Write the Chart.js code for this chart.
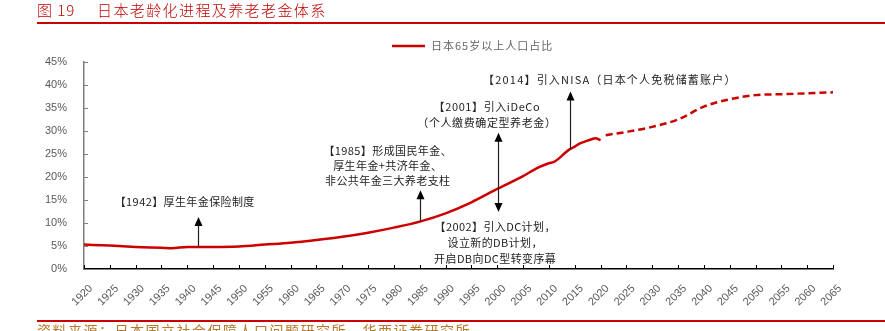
<!DOCTYPE html>
<html>
<head>
<meta charset="utf-8">
<script src="https://cdn.jsdelivr.net/npm/chart.js@4.4.0/dist/chart.umd.min.js"></script>
<style>
  html, body { margin: 0; padding: 0; background: #fff; }
</style>
</head>
<body>
<canvas id="agingChart" width="885" height="331"></canvas>
<script>
// 日本65岁以上人口占比（%），实际值
const actualYears = [1920, 1925, 1930, 1935, 1937, 1940, 1945, 1950, 1955, 1960, 1965, 1970, 1975, 1980,
                     1985, 1990, 1995, 2000, 2005, 2008, 2010, 2011, 2012, 2013, 2014, 2015, 2016, 2017,
                     2018, 2019, 2020];
const actualShare = [5.3, 5.1, 4.8, 4.6, 4.5, 4.8, 4.8, 4.9, 5.3, 5.7, 6.3, 7.0, 7.9, 9.0,
                     10.3, 12.1, 14.5, 17.4, 20.2, 22.1, 23.0, 23.3, 24.1, 25.1, 26.0, 26.6, 27.3, 27.7,
                     28.1, 28.4, 28.0];

// 预测值
const projYears = [2021, 2025, 2030, 2035, 2040, 2045, 2050, 2055, 2060, 2065];
const projShare = [29.1, 29.8, 30.9, 32.5, 35.3, 36.9, 37.8, 38.0, 38.2, 38.4];

const seriesName = '日本65岁以上人口占比';

// 政策节点：arrowFrom/arrowTo 为百分比位置，text 为多行说明
const notes = [
  { year: 1942, arrowFrom: 4.8, arrowTo: 11.3, textX: 1939.5, textY: [14.6], spacing: 0.4,
    text: ['【1942】厚生年金保险制度'] },
  { year: 1985, arrowFrom: 10.3, arrowTo: 17.1, textX: 1978.8, textY: [25.8, 22.5, 19.2], spacing: 0.4,
    text: ['【1985】形成国民年金、', '厚生年金+共济年金、', '非公共年金三大养老支柱'] },
  { year: 2000.1, arrowFrom: 17.4, arrowTo: 29.6, textX: 1998.0, textY: [35.3, 31.8], spacing: 0.6,
    text: ['【2001】引入iDeCo', '（个人缴费确定型养老金）'] },
  { year: 2000.1, arrowFrom: 17.4, arrowTo: 12.4, textX: 1999.6, textY: [9.2, 5.7, 2.2], spacing: 0.4,
    text: ['【2002】引入DC计划，', '设立新的DB计划，', '开启DB向DC型转变序幕'] },
  { year: 2014, arrowFrom: 26.0, arrowTo: 38.6, textX: 2021.8, textY: [41.2], spacing: 1.2,
    text: ['【2014】引入NISA（日本个人免税储蓄账户）'] }
];

const RED = '#cc0000';
const CJK = '"Noto Sans CJK SC", "Liberation Sans", sans-serif';

function arrow(ctx, x, y0, y1) {
  const dir = y1 < y0 ? -1 : 1;
  ctx.beginPath();
  ctx.moveTo(x, y0);
  ctx.lineTo(x, y1 - dir * 7);
  ctx.stroke();
  ctx.beginPath();
  ctx.moveTo(x, y1);
  ctx.lineTo(x - 4, y1 - dir * 9);
  ctx.lineTo(x + 4, y1 - dir * 9);
  ctx.closePath();
  ctx.fill();
}

const decorations = {
  id: 'decorations',
  afterDraw(chart) {
    const ctx = chart.ctx;
    const xs = chart.scales.x, ys = chart.scales.y;
    ctx.save();

    // 标题及上下分隔线
    ctx.fillStyle = '#c00000';
    ctx.font = '300 15px ' + CJK;
    ctx.textBaseline = 'middle';
    ctx.textAlign = 'left';
    ctx.letterSpacing = '1px';
    ctx.fillText('图 19', 37, 10);
    ctx.letterSpacing = '1.4px';
    ctx.fillText('日本老龄化进程及养老老金体系', 97, 10);
    ctx.letterSpacing = '0px';
    ctx.fillStyle = RED;
    ctx.fillRect(37, 22, 848, 2);
    ctx.fillRect(37, 320, 848, 2);

    ctx.fillStyle = '#b8782c';
    ctx.font = '14px ' + CJK;
    ctx.textBaseline = 'top';
    ctx.letterSpacing = '1.5px';
    ctx.fillText('资料来源：日本国立社会保障人口问题研究所，华西证券研究所', 37, 324);
    ctx.letterSpacing = '0px';

    // 图例
    ctx.strokeStyle = RED;
    ctx.lineWidth = 2.5;
    ctx.beginPath();
    ctx.moveTo(392, 46);
    ctx.lineTo(425, 46);
    ctx.stroke();
    ctx.fillStyle = '#666';
    ctx.font = '11px ' + CJK;
    ctx.textBaseline = 'middle';
    ctx.letterSpacing = '1px';
    ctx.fillText(seriesName, 431, 46);
    ctx.letterSpacing = '0px';

    // 坐标轴内侧刻度
    const { left, bottom } = chart.chartArea;
    ctx.lineWidth = 1;
    ctx.strokeStyle = '#000';
    xs.ticks.forEach(t => {
      const px = Math.round(xs.getPixelForValue(t.value)) + 0.5;
      ctx.beginPath();
      ctx.moveTo(px, bottom);
      ctx.lineTo(px, bottom - 4);
      ctx.stroke();
    });
    ctx.strokeStyle = '#7f7f7f';
    ys.ticks.forEach(t => {
      const py = Math.round(ys.getPixelForValue(t.value)) + 0.5;
      ctx.beginPath();
      ctx.moveTo(left, py);
      ctx.lineTo(left + 4, py);
      ctx.stroke();
    });

    // 政策节点标注
    ctx.strokeStyle = '#222';
    ctx.fillStyle = '#000';
    ctx.lineWidth = 1.2;
    notes.forEach(n => {
      const x = Math.round(xs.getPixelForValue(n.year)) + 0.5;
      arrow(ctx, x, ys.getPixelForValue(n.arrowFrom), ys.getPixelForValue(n.arrowTo));
    });
    ctx.fillStyle = '#222';
    ctx.font = '11px ' + CJK;
    ctx.textAlign = 'center';
    ctx.textBaseline = 'middle';
    notes.forEach(n => {
      const tx = xs.getPixelForValue(n.textX);
      ctx.letterSpacing = n.spacing + 'px';
      n.text.forEach((line, i) => {
        ctx.fillText(line, tx, ys.getPixelForValue(n.textY[i]));
      });
    });
    ctx.restore();
  }
};

const ctx = document.getElementById('agingChart').getContext('2d');
const agingChart = new Chart(ctx, {
  type: 'line',
  data: {
    datasets: [
      {
        label: seriesName,
        data: actualYears.map((y, i) => ({ x: y, y: actualShare[i] })),
        borderColor: RED,
        borderWidth: 2.5,
        pointRadius: 0,
        cubicInterpolationMode: 'monotone',
        fill: false
      },
      {
        label: seriesName + '（预测）',
        data: projYears.map((y, i) => ({ x: y, y: projShare[i] })),
        borderColor: RED,
        borderWidth: 2.5,
        borderDash: [7, 4],
        pointRadius: 0,
        cubicInterpolationMode: 'monotone',
        fill: false
      }
    ]
  },
  options: {
    responsive: false,
    animation: false,
    devicePixelRatio: 1,
    layout: { padding: { top: 62, right: 52, left: 0, bottom: 0 } },
    plugins: {
      legend: { display: false },
      tooltip: { enabled: false }
    },
    scales: {
      x: {
        type: 'linear',
        min: 1920,
        max: 2065,
        afterFit: s => { s.height = 62; },
        grid: { display: false },
        border: { display: true, color: '#000', width: 1.5 },
        ticks: {
          stepSize: 5,
          autoSkip: false,
          minRotation: 45,
          maxRotation: 45,
          padding: 5,
          labelOffset: 7,
          color: '#595959',
          font: { family: '"Liberation Sans", Arial, sans-serif', size: 11 },
          callback: v => String(v)
        }
      },
      y: {
        min: 0,
        max: 45,
        afterFit: s => { s.width = 84; },
        grid: { display: false },
        border: { display: true, color: '#7f7f7f', width: 1.5 },
        ticks: {
          stepSize: 5,
          padding: 9,
          color: '#595959',
          font: { family: '"Liberation Sans", Arial, sans-serif', size: 11 },
          callback: v => v + '%'
        }
      }
    }
  },
  plugins: [decorations]
});
</script>
</body>
</html>
